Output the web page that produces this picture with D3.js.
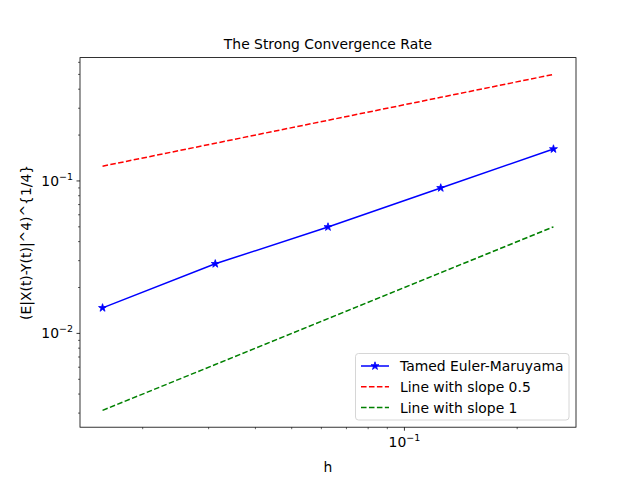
<!DOCTYPE html>
<html><head><meta charset="utf-8">
<script src="https://cdn.jsdelivr.net/npm/d3@7"></script>
<style>body{margin:0;background:#fff}svg{display:block;font-family:"DejaVu Sans",sans-serif}</style>
</head><body><svg id="c" width="640" height="480"></svg>
<script>
const hValues = [0.015625, 0.03125, 0.0625, 0.125, 0.25];
const tamedEM = [0.0147, 0.0286, 0.0499, 0.0900, 0.162];
const slopeHalf = [0.125, 0.1767767, 0.25, 0.3535534, 0.5];
const slopeOne = [0.003125, 0.00625, 0.0125, 0.025, 0.05];
const seriesNames = ["Tamed Euler-Maruyama", "Line with slope 0.5", "Line with slope 1"];
const xMajorTicks = [0.1];
const yMajorTicks = [0.01, 0.1];

const svg = d3.select("#c");
const L = 80, R = 576, T = 57.6, B = 427.2;
const allY = tamedEM.concat(slopeHalf, slopeOne);
function logDom(vals){
  const lo = Math.log10(d3.min(vals)), hi = Math.log10(d3.max(vals));
  const m = (hi - lo) * 0.05;
  return [Math.pow(10, lo - m), Math.pow(10, hi + m)];
}
const x = d3.scaleLog().domain(logDom(hValues)).range([L, R]);
const y = d3.scaleLog().domain(logDom(allY)).range([B, T]);

function minorTicks(scale){
  const [a,b] = scale.domain(); const out=[];
  for (let e=Math.floor(Math.log10(a)); e<=Math.ceil(Math.log10(b)); e++)
    for (let k=2;k<=9;k++){ const v=k*Math.pow(10,e); if(v>=a&&v<=b) out.push(v); }
  return out;
}
function supLabel(g, v){
  const e = Math.round(Math.log10(v));
  g.append("tspan").text("10");
  g.append("tspan").attr("dy", -6).attr("font-size", 9.5).text("\u2212" + Math.abs(e));
}

// x axis
const xa = svg.append("g");
minorTicks(x).forEach(v=>{
  xa.append("line").attr("x1",x(v)).attr("x2",x(v)).attr("y1",B).attr("y2",B+2).attr("stroke","#000").attr("stroke-width",0.6);
});
xMajorTicks.forEach(v=>{
  xa.append("line").attr("x1",x(v)).attr("x2",x(v)).attr("y1",B).attr("y2",B+3.5).attr("stroke","#000").attr("stroke-width",0.8);
  const t = xa.append("text").attr("x",x(v)).attr("y",B+20).attr("text-anchor","middle").attr("font-size",13.9);
  supLabel(t, v);
});
// y axis
const ya = svg.append("g");
minorTicks(y).forEach(v=>{
  ya.append("line").attr("x1",L-2).attr("x2",L).attr("y1",y(v)).attr("y2",y(v)).attr("stroke","#000").attr("stroke-width",0.6);
});
yMajorTicks.forEach(v=>{
  ya.append("line").attr("x1",L-3.5).attr("x2",L).attr("y1",y(v)).attr("y2",y(v)).attr("stroke","#000").attr("stroke-width",0.8);
  const t = ya.append("text").attr("x",L-7).attr("y",y(v)+5).attr("text-anchor","end").attr("font-size",13.9);
  supLabel(t, v);
});

const line = d3.line().x((d,i)=>x(hValues[i])).y(d=>y(d));
svg.append("path").datum(slopeHalf).attr("d",line).attr("fill","none").attr("stroke","red").attr("stroke-width",1.5).attr("stroke-dasharray","5.55,2.4");
svg.append("path").datum(slopeOne).attr("d",line).attr("fill","none").attr("stroke","green").attr("stroke-width",1.5).attr("stroke-dasharray","5.55,2.4");
svg.append("path").datum(tamedEM).attr("d",line).attr("fill","none").attr("stroke","blue").attr("stroke-width",1.5);
const star = d3.symbol().type(d3.symbolStar).size(20);
svg.selectAll(".m").data(tamedEM).enter().append("path")
  .attr("transform",(d,i)=>`translate(${x(hValues[i])},${y(d)})`).attr("d",star).attr("fill","blue").attr("stroke","blue").attr("stroke-width",0.8);

// frame
svg.append("rect").attr("x",L).attr("y",T).attr("width",R-L).attr("height",B-T).attr("fill","none").attr("stroke","#000").attr("stroke-width",0.8);

// labels
svg.append("text").attr("x",(L+R)/2).attr("y",49).attr("text-anchor","middle").attr("font-size",13.9).text("The Strong Convergence Rate");
svg.append("text").attr("x",(L+R)/2).attr("y",472).attr("text-anchor","middle").attr("font-size",13.9).text("h");
svg.append("text").attr("transform",`translate(31,${(T+B)/2}) rotate(-90)`).attr("text-anchor","middle").attr("font-size",13.9).text("(E|X(t)-Y(t)|^4)^{1/4}");

// legend
const lg = svg.append("g");
lg.append("rect").attr("x",355.5).attr("y",353.5).attr("width",213.5).attr("height",66.5).attr("rx",3).attr("fill","#fff").attr("fill-opacity",0.8).attr("stroke","#ccc").attr("stroke-width",0.8);
const colors = ["blue","red","green"];
seriesNames.forEach((n,i)=>{
  const yy = 366 + i*20.8;
  lg.append("line").attr("x1",361).attr("x2",389).attr("y1",yy).attr("y2",yy).attr("stroke",colors[i]).attr("stroke-width",1.5)
    .attr("stroke-dasharray", i===0?null:"5.55,2.4");
  if(i===0) lg.append("path").attr("transform",`translate(375,${yy})`).attr("d",star).attr("fill","blue").attr("stroke","blue").attr("stroke-width",0.8);
  lg.append("text").attr("x",400).attr("y",yy+5).attr("font-size",13.9).text(n);
});
</script></body></html>
